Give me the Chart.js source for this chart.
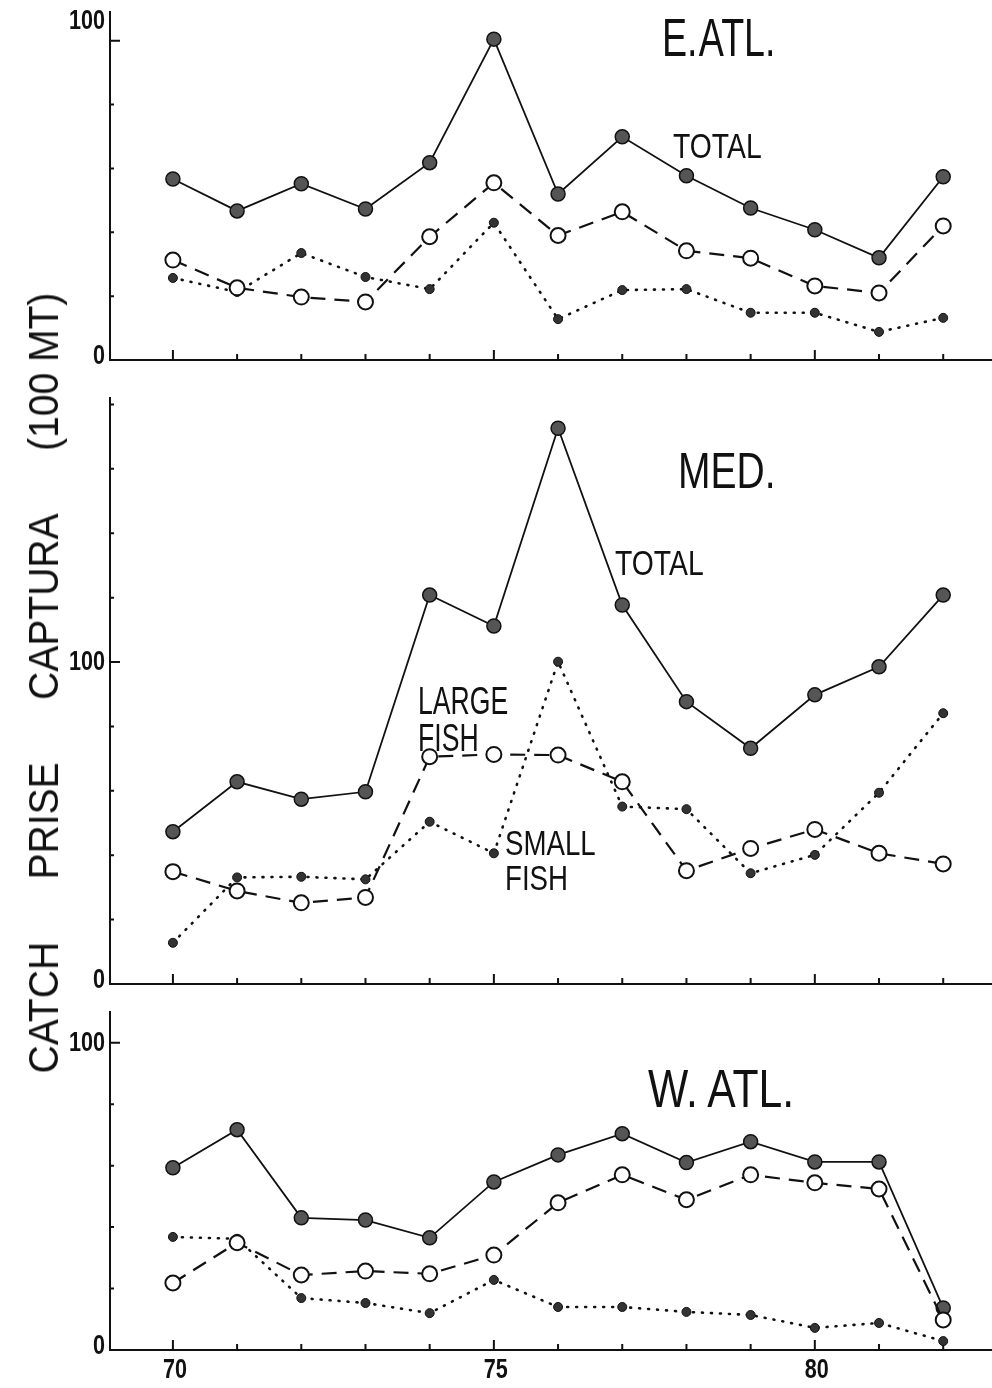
<!DOCTYPE html>
<html>
<head>
<meta charset="utf-8">
<script src="https://cdn.jsdelivr.net/npm/chart.js@4.4.1/dist/chart.umd.min.js"></script>
<style>
  body { margin: 0; background: #fff; }
  #wrap { position: relative; width: 992px; height: 1388px; overflow: hidden; background: #fff; }
  canvas { position: absolute; left: 0; }
  .lbl { position: absolute; font-family: "Liberation Sans", Arial, sans-serif; color: #111;
         line-height: 1; white-space: nowrap; transform-origin: left top; }
  #ytitle { position: absolute; left: 44px; top: 683px; font-family: "Liberation Sans", Arial, sans-serif;
            font-size: 42px; line-height: 1; white-space: nowrap; color: #111;
            transform: translate(-50%, -50%) rotate(-90deg) scaleX(0.93); }
  #ytitle span { display: inline-block; margin-right: 67px; }
  #ytitle span:last-child { margin-right: 0; }
</style>
</head>
<body>
<div id="wrap">
  <canvas id="eatl" width="992" height="380" style="top:0px"></canvas>
  <canvas id="med" width="992" height="620" style="top:380px"></canvas>
  <canvas id="watl" width="992" height="388" style="top:1000px"></canvas>

  <div id="ytitle"><span>CATCH</span><span>PRISE</span><span>CAPTURA</span><span>(100 MT)</span></div>

  <div class="lbl" style="left:662px;top:11px;font-size:53px;word-spacing:-10px;transform:scaleX(0.71)">E. ATL.</div>
  <div class="lbl" style="left:673px;top:128px;font-size:35px;transform:scaleX(0.81)">TOTAL</div>
  <div class="lbl" style="left:678px;top:446px;font-size:50px;transform:scaleX(0.78)">MED.</div>
  <div class="lbl" style="left:615px;top:545px;font-size:35px;transform:scaleX(0.81)">TOTAL</div>
  <div class="lbl" style="left:418px;top:683px;font-size:38px;line-height:37px;transform:scaleX(0.7)">LARGE<br>FISH</div>
  <div class="lbl" style="left:505px;top:825px;font-size:35px;line-height:35px;transform:scaleX(0.79)">SMALL<br>FISH</div>
  <div class="lbl" style="left:648px;top:1061px;font-size:54px;transform:scaleX(0.79)">W. ATL.</div>
</div>

<script>
// years 1970-1982, catch in 100 MT
const years = [70, 71, 72, 73, 74, 75, 76, 77, 78, 79, 80, 81, 82];

const eAtlTotal = [56.7, 46.7, 55.2, 47.3, 61.8, 100.5, 52.0, 69.9, 57.7, 47.6, 40.8, 32.0, 57.4];
const eAtlLarge = [31.3, 22.6, 19.7, 18.2, 38.6, 55.5, 39.0, 46.4, 34.2, 31.9, 23.2, 21.0, 42.0];
const eAtlSmall = [25.7, 21.3, 33.5, 26.0, 22.2, 43.0, 12.8, 21.9, 22.2, 14.8, 14.8, 8.8, 13.2];

const medTotal = [47.3, 62.8, 57.4, 59.7, 120.8, 111.2, 172.6, 117.7, 87.7, 73.2, 89.8, 98.5, 120.8];
const medLarge = [34.9, 28.9, 25.2, 26.9, 70.6, 71.3, 71.1, 62.8, 35.2, 42.1, 48.0, 40.6, 37.3];
const medSmall = [12.8, 33.1, 33.3, 32.5, 50.4, 40.6, 100.1, 55.1, 54.3, 34.4, 40.1, 59.4, 84.1];

const wAtlTotal = [59.3, 71.7, 43.0, 42.3, 36.5, 54.7, 63.5, 70.4, 61.0, 67.8, 61.2, 61.2, 13.7];
const wAtlLarge = [21.8, 34.9, 24.4, 25.7, 24.8, 30.9, 47.9, 57.0, 48.9, 57.0, 54.4, 52.4, 9.8];
const wAtlSmall = [36.8, 36.2, 16.9, 15.3, 12.0, 22.8, 14.0, 14.0, 12.4, 11.4, 7.2, 8.8, 2.9];

const yTickLabels = ["0", "100"];
const xTickLabels = ["70", "75", "80"];

const ink = "#111";

// small tick marks drawn on the inside of both axes
const innerTicks = {
  id: "innerTicks",
  beforeDatasetsDraw(chart) {
    const { ctx, chartArea: a, scales: { x, y } } = chart;
    ctx.save();
    ctx.strokeStyle = ink;
    ctx.lineWidth = 2;
    ctx.beginPath();
    for (const yr of years) {
      const px = x.getPixelForValue(yr);
      const len = yr % 5 === 0 ? 10 : 6;
      ctx.moveTo(px, a.bottom);
      ctx.lineTo(px, a.bottom - len);
    }
    for (let v = 20; v <= y.max; v += 20) {
      const py = y.getPixelForValue(v);
      const len = v === 100 ? 10 : 4;
      ctx.moveTo(a.left, py);
      ctx.lineTo(a.left + len, py);
    }
    ctx.stroke();
    ctx.restore();
  }
};

// narrow tick labels (the original uses a condensed face)
const narrowLabels = {
  id: "narrowLabels",
  afterDraw(chart, args, opts) {
    const { ctx, chartArea: a, scales: { x, y } } = chart;
    ctx.save();
    ctx.fillStyle = ink;
    ctx.font = 'bold 27px "Liberation Sans", Arial, sans-serif';
    ctx.textBaseline = "middle";
    for (const t of yTickLabels) {
      const v = Number(t);
      let py = y.getPixelForValue(v);
      if (v === 0) py -= 4;
      if (opts.lift && v === 100) py -= 20;
      ctx.save();
      ctx.translate(a.left - 5, py);
      ctx.scale(0.8, 1);
      ctx.textAlign = "right";
      ctx.fillText(t, 0, 1);
      ctx.restore();
    }
    if (opts.xLabels) {
      for (const t of xTickLabels) {
        const px = x.getPixelForValue(Number(t));
        ctx.save();
        ctx.translate(px + 2, a.bottom + 20);
        ctx.scale(0.8, 1);
        ctx.textAlign = "center";
        ctx.fillText(t, 0, 1);
        ctx.restore();
      }
    }
    ctx.restore();
  }
};

function pts(vals) {
  return years.map((yr, i) => ({ x: yr, y: vals[i] }));
}

function makePanel(id, total, large, small, cfg) {
  const ctx = document.getElementById(id).getContext("2d");
  return new Chart(ctx, {
    type: "line",
    data: {
      datasets: [
        {
          label: "Large fish",
          data: pts(large),
          borderColor: ink,
          borderWidth: 2.2,
          borderDash: [15, 9],
          pointRadius: 7.5,
          pointBackgroundColor: "#fff",
          pointBorderColor: ink,
          pointBorderWidth: 2,
          fill: false,
          order: 0
        },
        {
          label: "Small fish",
          data: pts(small),
          borderColor: ink,
          borderWidth: 2.6,
          borderDash: [1, 8],
          borderCapStyle: "round",
          pointRadius: 4.5,
          pointBackgroundColor: "#333",
          pointBorderColor: ink,
          pointBorderWidth: 1,
          fill: false,
          order: 1
        },
        {
          label: "Total",
          data: pts(total),
          borderColor: ink,
          borderWidth: 1.8,
          pointRadius: 7,
          pointBackgroundColor: "#555",
          pointBorderColor: ink,
          pointBorderWidth: 1.5,
          fill: false,
          order: 2
        }
      ]
    },
    options: {
      responsive: false,
      animation: false,
      devicePixelRatio: 1,
      layout: { autoPadding: false, padding: { top: cfg.padTop, left: 0, right: 0, bottom: 0 } },
      plugins: {
        legend: { display: false },
        tooltip: { enabled: false },
        narrowLabels: { lift: cfg.lift, xLabels: cfg.xLabels }
      },
      scales: {
        x: {
          type: "linear",
          min: 69.02,
          max: 82.76,
          grid: { display: false, drawTicks: false },
          border: { display: true, color: ink, width: 2 },
          ticks: { display: false, stepSize: 1 },
          afterFit: s => { s.height = cfg.xAxisH; s.paddingLeft = 0; s.paddingRight = 0; }
        },
        y: {
          min: 0,
          max: cfg.yMax,
          grid: { display: false, drawTicks: false },
          border: { display: true, color: ink, width: 2 },
          ticks: { display: false, stepSize: 20 },
          afterFit: s => { s.width = 110; s.paddingTop = 0; s.paddingBottom = 0; }
        }
      }
    },
    plugins: [innerTicks, narrowLabels]
  });
}

makePanel("eatl", eAtlTotal, eAtlLarge, eAtlSmall, { padTop: 12, yMax: 109, xAxisH: 20, xLabels: false, lift: true });
makePanel("med", medTotal, medLarge, medSmall, { padTop: 18, yMax: 182, xAxisH: 16, xLabels: false, lift: false });
makePanel("watl", wAtlTotal, wAtlLarge, wAtlSmall, { padTop: 12, yMax: 110, xAxisH: 38, xLabels: true, lift: false });
</script>
</body>
</html>
